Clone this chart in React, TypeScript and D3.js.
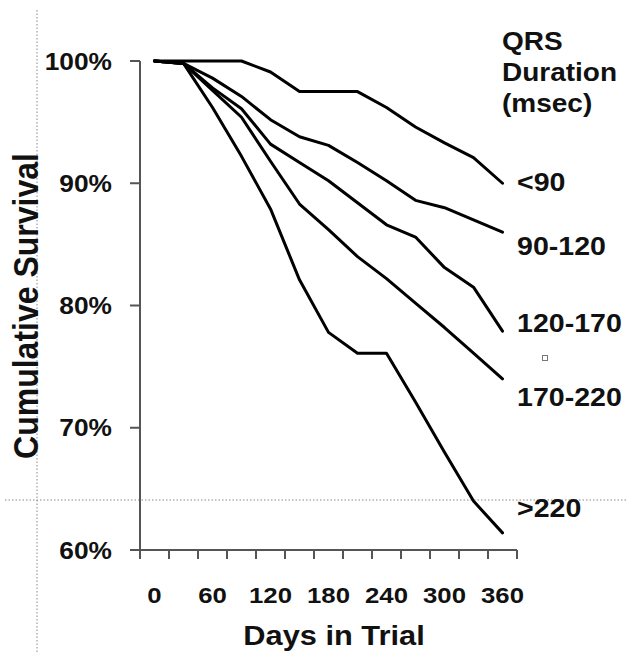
import React from "react";
import * as d3 from "d3";

const days = [0, 30, 60, 90, 120, 150, 180, 210, 240, 270, 300, 330, 360];
const seriesNames = ["<90", "90-120", "120-170", "170-220", ">220"];
const lt90 = [100, 100, 100, 100, 99.1, 97.5, 97.5, 97.5, 96.2, 94.6, 93.3, 92.1, 90.0];
const q90to120 = [100, 99.8, 98.6, 97.1, 95.2, 93.8, 93.1, 91.7, 90.2, 88.6, 88.0, 87.0, 86.0];
const q120to170 = [100, 99.8, 97.8, 96.1, 93.2, 91.7, 90.2, 88.4, 86.6, 85.6, 83.1, 81.5, 77.9];
const q170to220 = [100, 99.8, 97.6, 95.4, 91.8, 88.3, 86.2, 84.0, 82.2, 80.2, 78.2, 76.1, 74.0];
const gt220 = [100, 99.8, 96.2, 92.2, 87.9, 82.1, 77.8, 76.1, 76.1, 72.1, 68.0, 64.0, 61.4];
const seriesValues = [lt90, q90to120, q120to170, q170to220, gt220];
const yTicks = [60, 70, 80, 90, 100];
const xLabelDays = [0, 60, 120, 180, 240, 300, 360];
const legendTitle = ["QRS", "Duration", "(msec)"];

const SX = 1.12;
const FONT = "'Liberation Sans', Arial, sans-serif";

export default function App() {
  const W = 627;
  const H = 652;
  const x = d3.scaleLinear().domain([-15, 375]).range([140, 517]);
  const y = d3.scaleLinear().domain([60, 100]).range([550, 61]);
  const tickDays = d3.range(-15, 376, 30);
  const line = d3
    .line<number>()
    .x((_, i) => x(days[i]))
    .y((v) => y(v))
    .curve(d3.curveLinear);

  const labelBaselines = [191, 255, 332, 406, 517];

  const txt = (
    key: string,
    tx: number,
    ty: number,
    s: string,
    size: number,
    anchor: "start" | "middle" | "end" = "start"
  ) => (
    <g key={key} transform={`translate(${tx},${ty}) scale(${SX},1)`}>
      <text
        x={0}
        y={0}
        fontFamily={FONT}
        fontWeight="bold"
        fontSize={size}
        textAnchor={anchor}
        fill="#111"
      >
        {s}
      </text>
    </g>
  );

  return (
    <svg
      width={W}
      height={H}
      style={{ position: "absolute", left: 0, top: 0, background: "#fff" }}
    >
      <rect x={0} y={0} width={W} height={H} fill="#fff" />
      {/* dotted guide lines */}
      <line x1={37} x2={37} y1={10} y2={H} stroke="#888" strokeWidth={1} strokeDasharray="1.5,2" />
      <line x1={5} x2={W} y1={500} y2={500} stroke="#888" strokeWidth={1} strokeDasharray="1.5,2" />

      {/* y axis */}
      <line x1={140} x2={140} y1={y(100)} y2={y(60)} stroke="#555" strokeWidth={2} />
      {yTicks.map((t) => (
        <g key={"yt" + t}>
          <line x1={130} x2={140} y1={y(t)} y2={y(t)} stroke="#555" strokeWidth={2} />
          {txt("yl" + t, 112, y(t) + 8.5, `${t}%`, 23.5, "end")}
        </g>
      ))}

      {/* x axis */}
      <line x1={x(-15)} x2={x(375)} y1={550} y2={550} stroke="#555" strokeWidth={2} />
      {tickDays.map((d) => (
        <line key={"xt" + d} x1={x(d)} x2={x(d)} y1={550} y2={559} stroke="#555" strokeWidth={2} />
      ))}
      {xLabelDays.map((d) => txt("xl" + d, x(d), 603, String(d), 23, "middle"))}

      {/* series */}
      {seriesValues.map((vals, i) => (
        <path
          key={"s" + i}
          d={line(vals) || ""}
          fill="none"
          stroke="#000"
          strokeWidth={3}
          strokeLinejoin="round"
          strokeLinecap="round"
        />
      ))}

      {/* series labels */}
      {seriesNames.map((n, i) => txt("sl" + i, 517, labelBaselines[i], n, 25.5))}
      <rect x={542.5} y={355.5} width={5} height={5} fill="#fff" stroke="#777" strokeWidth={1} />

      {/* legend title */}
      {legendTitle.map((t, i) => txt("lt" + i, 502, 50 + i * 31, t, 25))}

      {/* axis titles */}
      <g transform={`translate(38,306) scale(${SX},1) rotate(-90)`}>
        <text x={0} y={0} fontFamily={FONT} fontWeight="bold" fontSize={32} textAnchor="middle" fill="#111">
          Cumulative Survival
        </text>
      </g>
      {txt("xtitle", 334, 645, "Days in Trial", 27.5, "middle")}
    </svg>
  );
}
